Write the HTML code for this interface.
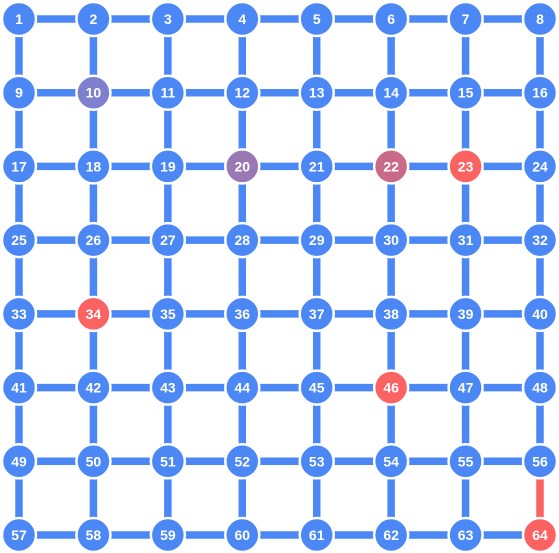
<!DOCTYPE html>
<html><head><meta charset="utf-8"><style>
html,body{margin:0;padding:0;background:#fff;}
svg{display:block;}
text{font-family:"Liberation Sans",sans-serif;font-weight:bold;font-size:14px;fill:#fff;}
</style></head><body>
<svg id="g" width="559" height="553"></svg>
<script>
const rows = 8, cols = 8;
const specialNodes = [10, 20, 22, 23, 34, 46, 64];
const specialColors = ["#7f7fd0", "#9a78b4", "#c96b88", "#fb6262", "#fb6262", "#fb6262", "#fb6262"];
const redEdges = [[56, 64]];
const NS = "http://www.w3.org/2000/svg";
const svg = document.getElementById("g");
function px(c){ return 19 + c * (540 - 19) / 7; }
function py(r){ return 19 + r * (535 - 19) / 7; }
function pos(n){ const i = n - 1; return [px(i % cols), py(Math.floor(i / cols))]; }
function isRed(a,b){ return redEdges.some(e => (e[0]===a&&e[1]===b)||(e[0]===b&&e[1]===a)); }
function edge(a,b){
  const [x1,y1]=pos(a),[x2,y2]=pos(b);
  const l=document.createElementNS(NS,"line");
  l.setAttribute("x1",x1);l.setAttribute("y1",y1);l.setAttribute("x2",x2);l.setAttribute("y2",y2);
  l.setAttribute("stroke",isRed(a,b)?"#fb6262":"#4c87f6");
  l.setAttribute("stroke-width","7.5");
  
  
  svg.appendChild(l);
}
for(let n=1;n<=64;n++){
  const i=n-1;
  if(i%cols<cols-1) edge(n,n+1);
  if(Math.floor(i/cols)<rows-1) edge(n,n+cols);
}
for(let n=1;n<=64;n++){
  const [x,y]=pos(n);
  const k=specialNodes.indexOf(n);
  const g=document.createElementNS(NS,"g");
  
  
  const c=document.createElementNS(NS,"circle");
  c.setAttribute("cx",x);c.setAttribute("cy",y);c.setAttribute("r","17");
  c.setAttribute("fill",k>=0?specialColors[k]:"#4c87f6");
  c.setAttribute("stroke","#fff");c.setAttribute("stroke-width","2.5");
  g.appendChild(c);
  const t=document.createElementNS(NS,"text");
  t.setAttribute("x",x);t.setAttribute("y",y+5);t.setAttribute("text-anchor","middle");
  t.textContent=n;
  g.appendChild(t);
  svg.appendChild(g);
}
</script>
</body></html>
